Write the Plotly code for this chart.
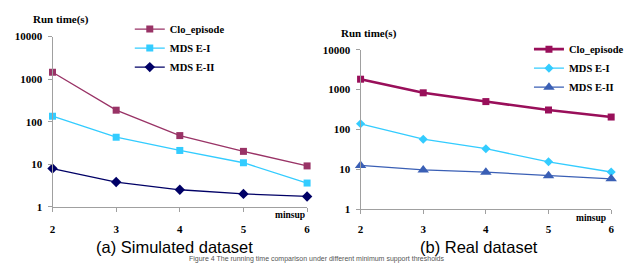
import plotly.graph_objects as go

minsup = [2, 3, 4, 5, 6]
series_names = ["Clo_episode", "MDSE-I", "MDSE-II"]
legend_labels = ["Clo_episode", "MDS E-I", "MDS E-II"]

sim_clo = [1450, 186, 47, 20, 9.1]
sim_mdse1 = [134, 43, 21, 10.8, 3.6]
sim_mdse2 = [7.9, 3.8, 2.5, 2.0, 1.74]

real_clo = [1820, 830, 500, 308, 205]
real_mdse1 = [139, 57, 33, 15.5, 8.6]
real_mdse2 = [12.6, 9.7, 8.5, 6.9, 5.8]

y_ticks = [1, 10, 100, 1000, 10000]
y_ticktext = ["1", "10", "100", "1000", "10000"]

W, H = 632, 271
serif = "Liberation Serif"
sans = "Liberation Sans"

fig = go.Figure()

left_styles = [
    dict(color="#993366", symbol="square", size=7, width=1.3),
    dict(color="#33CCFF", symbol="square", size=7, width=1.3),
    dict(color="#000066", symbol="diamond", size=8, width=1.3),
]
for name, vals, st in zip(legend_labels, [sim_clo, sim_mdse1, sim_mdse2], left_styles):
    fig.add_trace(go.Scatter(
        x=minsup, y=vals, name=name, mode="lines+markers",
        line=dict(color=st["color"], width=st["width"]),
        marker=dict(color=st["color"], symbol=st["symbol"], size=st["size"]),
        xaxis="x", yaxis="y", legend="legend", cliponaxis=False,
    ))

right_styles = [
    dict(color="#990F5A", symbol="square", size=7, width=2.6),
    dict(color="#33CCFF", symbol="diamond", size=7, width=1.3),
    dict(color="#3A5FB5", symbol="triangle-up", size=10, width=1.3),
]
for name, vals, st in zip(legend_labels, [real_clo, real_mdse1, real_mdse2], right_styles):
    fig.add_trace(go.Scatter(
        x=minsup, y=vals, name=name, mode="lines+markers",
        line=dict(color=st["color"], width=st["width"]),
        marker=dict(color=st["color"], symbol=st["symbol"], size=st["size"]),
        xaxis="x2", yaxis="y2", legend="legend2", cliponaxis=False,
    ))

def px_x(p):
    return p / W

def px_y(p):
    return 1 - p / H

tickfont = dict(family=serif, size=11, color="black", weight="bold")
axis_common = dict(showgrid=False, zeroline=False, showline=True, linecolor="#A0A0A0",
                   linewidth=1, ticks="outside", tickcolor="#A0A0A0", ticklen=4,
                   tickfont=tickfont)

legfont = dict(family=serif, size=10.5, color="black", weight="bold")
fig.update_layout(
    width=W, height=H, margin=dict(l=0, r=0, t=0, b=0),
    paper_bgcolor="white", plot_bgcolor="white",
    showlegend=True,
    xaxis=dict(domain=[px_x(50), px_x(307)], range=[2, 6], tickvals=minsup,
               anchor="y", ticklabelstandoff=8, **axis_common),
    yaxis=dict(domain=[px_y(210), px_y(32)], type="log", range=[0, 4], tickvals=y_ticks,
               ticktext=y_ticktext, anchor="x", ticklabelstandoff=3, **axis_common),
    xaxis2=dict(domain=[px_x(361), px_x(614)], range=[2, 6], tickvals=minsup,
                anchor="y2", ticklabelstandoff=6, **axis_common),
    yaxis2=dict(domain=[px_y(212.7), px_y(45.7)], type="log", range=[0, 4], tickvals=y_ticks,
                ticktext=y_ticktext, anchor="x2", ticklabelstandoff=3, **axis_common),
    legend=dict(x=px_x(128), y=px_y(9), xanchor="left", yanchor="top",
                bgcolor="rgba(0,0,0,0)", font=legfont, itemwidth=30, tracegroupgap=0),
    legend2=dict(x=px_x(531), y=px_y(30), xanchor="left", yanchor="top",
                 bgcolor="rgba(0,0,0,0)", font=legfont, itemwidth=30, tracegroupgap=0),
)

annots = [
    dict(text="Run time(s)", x=px_x(28), y=px_y(14), xanchor="left", yanchor="middle",
         font=dict(family=serif, size=11, weight="bold")),
    dict(text="Run time(s)", x=px_x(339), y=px_y(29), xanchor="left", yanchor="middle",
         font=dict(family=serif, size=11, weight="bold")),
    dict(text="minsup", x=px_x(307), y=px_y(219), xanchor="right", yanchor="middle",
         font=dict(family=serif, size=9.5, weight="bold")),
    dict(text="minsup", x=px_x(611), y=px_y(222), xanchor="right", yanchor="middle",
         font=dict(family=serif, size=9.5, weight="bold")),
    dict(text="(a) Simulated dataset", x=px_x(173), y=px_y(252), xanchor="center", yanchor="middle",
         font=dict(family=sans, size=16.5)),
    dict(text="(b) Real dataset", x=px_x(481), y=px_y(252), xanchor="center", yanchor="middle",
         font=dict(family=sans, size=16.5)),
    dict(text="Figure 4 The running time comparison under different minimum support thresholds",
         x=px_x(316), y=0, xanchor="center", yanchor="bottom",
         font=dict(family=sans, size=7, color="#555555")),
]
for a in annots:
    a.update(xref="paper", yref="paper", showarrow=False)
    a["font"].setdefault("color", "black")
fig.update_layout(annotations=annots)

fig.write_html("out.html", config={"displayModeBar": False},
               post_script="document.body.style.margin='0';document.body.style.overflow='hidden';")
